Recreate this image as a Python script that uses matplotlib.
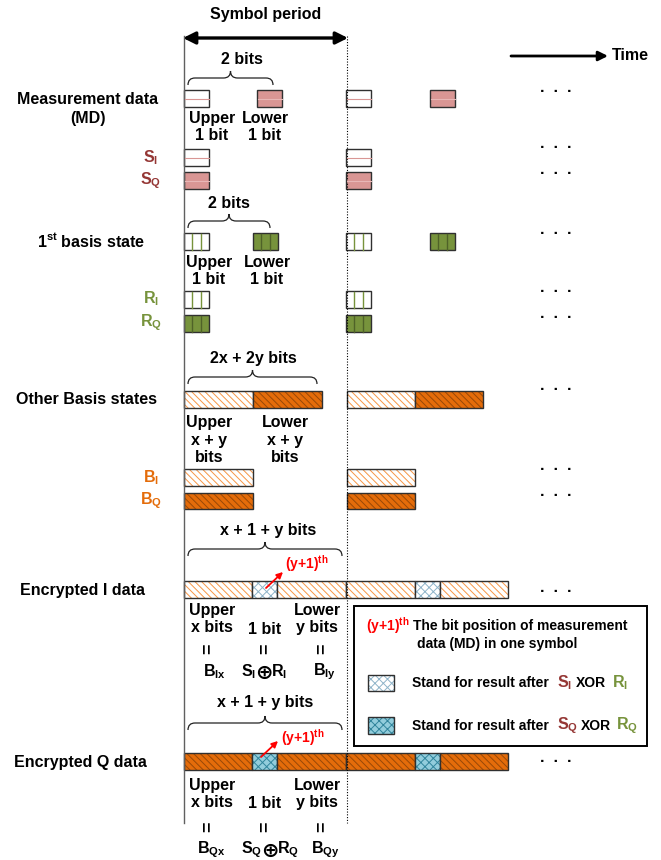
import matplotlib.pyplot as plt
from matplotlib.patches import Rectangle, PathPatch
from matplotlib.path import Path

# ---- text content of the diagram
row_titles = ['Measurement data\n(MD)', '1$^{st}$ basis state', 'Other Basis states',
              'Encrypted I data', 'Encrypted Q data']
brace_labels = ['2 bits', '2 bits', '2x + 2y bits', 'x + 1 + y bits', 'x + 1 + y bits']
one_bit_parts = ['Upper\n1 bit', 'Lower\n1 bit']
basis_parts = ['Upper\nx + y\nbits', 'Lower\nx + y\nbits']
enc_parts = ['Upper\nx bits', '1 bit', 'Lower\ny bits']
enc_I_terms = ['B$_{Ix}$', 'S$_I$', 'R$_I$', 'B$_{Iy}$']
enc_Q_terms = ['B$_{Qx}$', 'S$_Q$', 'R$_Q$', 'B$_{Qy}$']
s_labels = ['S$_I$', 'S$_Q$']
r_labels = ['R$_I$', 'R$_Q$']
b_labels = ['B$_I$', 'B$_Q$']
pos_label = '(y+1)$^{th}$'
legend_lines = ['The bit position of measurement', 'data (MD) in one symbol']
legend_xor = 'Stand for result after'

# ---- colours
RED_T = '#953735'
MD_FILL = '#d99694'
GREEN = '#77933c'
GREEN_D = '#4f6228'
ORANGE = '#e46c0a'
ORANGE_H = '#984807'
ORANGE_L = '#f79646'
BLUE = '#92cddc'
BLUE_H = '#31859c'
LIGHT_X = '#8fb4c9'
EDGE = '#303030'

HATCH = '\\\\\\\\\\'
XHATCH = 'xxxx'

plt.rcParams['font.family'] = ['Liberation Sans', 'DejaVu Sans']
plt.rcParams['font.weight'] = 'bold'
plt.rcParams['mathtext.default'] = 'regular'
plt.rcParams['hatch.linewidth'] = 0.7

fig = plt.figure(figsize=(6.61, 8.6), dpi=100)
ax = fig.add_axes([0, 0, 1, 1])
ax.set_xlim(0, 661)
ax.set_ylim(860, 0)
ax.axis('off')

FS = 11.5


def txt(x, y, s, size=FS, color='black', ha='center', va='center', **kw):
    ax.text(x, y, s, fontsize=size, color=color, ha=ha, va=va,
            fontweight='bold', linespacing=1.2, **kw)


def box(x, y, w, h, fill, hatch=None, hcolor=None):
    if hatch:
        ax.add_patch(Rectangle((x, y), w, h, facecolor=fill, edgecolor=hcolor,
                               hatch=hatch, lw=0))
        ax.add_patch(Rectangle((x, y), w, h, facecolor='none', edgecolor=EDGE, lw=1.0))
    else:
        ax.add_patch(Rectangle((x, y), w, h, facecolor=fill, edgecolor=EDGE, lw=1.0))


def md_box(x, y, filled):
    box(x, y, 25, 17, MD_FILL if filled else 'white')
    ax.plot([x + 0.5, x + 24.5], [y + 8.5, y + 8.5], color='#e8b7b6' if filled else MD_FILL, lw=0.8)


def green_box(x, y, filled):
    box(x, y, 25, 17, GREEN if filled else 'white')
    for k in (1, 2):
        ax.plot([x + 25 * k / 3] * 2, [y + 0.5, y + 16.5], color=GREEN_D if filled else GREEN, lw=1.0)


def brace(x0, x1, ybar, h=7):
    xm = (x0 + x1) / 2
    verts = [(x0, ybar + h), (x0, ybar), (x0 + h, ybar), (xm - h, ybar), (xm, ybar), (xm, ybar - h),
             (xm, ybar - h), (xm, ybar), (xm + h, ybar), (x1 - h, ybar), (x1, ybar), (x1, ybar + h)]
    codes = [Path.MOVETO, Path.CURVE3, Path.CURVE3, Path.LINETO, Path.CURVE3, Path.CURVE3,
             Path.MOVETO, Path.CURVE3, Path.CURVE3, Path.LINETO, Path.CURVE3, Path.CURVE3]
    ax.add_patch(PathPatch(Path(verts, codes), facecolor='none', edgecolor='#222222', lw=0.9))


def dots(y):
    txt(556, y - 3, '.  .  .', size=11.5)


# ---- header
txt(266, 15, 'Symbol period')
ax.annotate('', xy=(348, 38), xytext=(183, 38),
            arrowprops=dict(arrowstyle='<|-|>', lw=2.4, color='black', mutation_scale=18,
                            shrinkA=0, shrinkB=0))
ax.annotate('', xy=(608, 56), xytext=(511, 56),
            arrowprops=dict(arrowstyle='-|>', lw=2.0, color='black', mutation_scale=14,
                            shrinkA=0, shrinkB=0))
txt(612, 55, 'Time', ha='left')
ax.plot([184, 184], [36, 823], color='#606060', lw=1.0)
ax.plot([346.5, 346.5], [36, 823], color='black', lw=0.8, ls=(0, (1, 1.5)))

# ---- measurement data
txt(88, 100, row_titles[0].split('\n')[0])
txt(88, 119, row_titles[0].split('\n')[1])
brace(188, 273, 78)
txt(242, 60, brace_labels[0])
for x0, xl in zip([184, 346], [257, 430]):
    md_box(x0, 90, False)
    md_box(xl, 90, True)
    md_box(x0, 149, False)
    md_box(x0, 172, True)
txt(212, 127, one_bit_parts[0])
txt(265, 127, one_bit_parts[1])
txt(151, 158, s_labels[0], size=11.5, color=RED_T)
txt(151, 181, s_labels[1], size=11.5, color=RED_T)

# ---- 1st basis state
txt(91, 241, row_titles[1])
brace(188, 270, 221)
txt(229, 203, brace_labels[1])
for x0, xl in zip([184, 346], [253, 430]):
    green_box(x0, 233, False)
    green_box(xl, 233, True)
    green_box(x0, 291, False)
    green_box(x0, 315, True)
txt(209, 271, one_bit_parts[0])
txt(267, 271, one_bit_parts[1])
txt(151, 299, r_labels[0], size=11.5, color=GREEN)
txt(151, 323, r_labels[1], size=11.5, color=GREEN)

# ---- other basis states
txt(87, 400, row_titles[2])
brace(188, 317, 377)
txt(253, 358, brace_labels[2])
for x0, xm, x1 in [(184, 253, 322), (347, 415, 483)]:
    box(x0, 391, xm - x0, 17, 'white', HATCH, ORANGE_L)
    box(xm, 391, x1 - xm, 17, ORANGE, HATCH, ORANGE_H)
    box(x0, 469, xm - x0, 17, 'white', HATCH, ORANGE_L)
    box(x0, 493, xm - x0, 16, ORANGE, HATCH, ORANGE_H)
txt(209, 440, basis_parts[0])
txt(285, 440, basis_parts[1])
txt(151, 478, b_labels[0], size=11.5, color=ORANGE)
txt(151, 501, b_labels[1], size=11.5, color=ORANGE)


# ---- encrypted rows
def enc_row(ytop, title, title_x, terms, fill, hcol, xfill, xcol, ybr, arr, texty, eqy, termy, sx):
    txt(title_x, ytop + 9, title)
    brace(188, 342, ybr)
    for x0, xa, xb, x1 in [(184, 252, 277, 346), (346, 415, 440, 508)]:
        box(x0, ytop, xa - x0, 17, fill, HATCH, hcol)
        box(xa, ytop, xb - xa, 17, xfill, XHATCH, xcol)
        box(xb, ytop, x1 - xb, 17, fill, HATCH, hcol)
    ax.annotate('', xy=(arr[2], arr[3]), xytext=(arr[0], arr[1]),
                arrowprops=dict(arrowstyle='-|>', lw=1.3, color='red', mutation_scale=9,
                                shrinkA=0, shrinkB=0))
    txt(212, texty, enc_parts[0])
    txt(265, texty + 10, enc_parts[1])
    txt(317, texty, enc_parts[2])
    for xe in (208, 265, 322):
        txt(xe, eqy, '=', size=13, rotation=90)
    txt(sx[0], termy, terms[0])
    txt(sx[1], termy, terms[1], ha='right')
    ax.text(sx[2], termy + 1, '\u2295', fontsize=15, ha='center', va='center',
            family='DejaVu Sans', fontweight='bold')
    txt(sx[3], termy, terms[2], ha='left')
    txt(sx[4], termy, terms[3])


enc_row(581, row_titles[3], 83, enc_I_terms, 'white', ORANGE_L, 'white', LIGHT_X,
        549, (266, 588, 283, 572), 619, 649, 672, (214, 256, 263.5, 271, 324))
txt(307, 564, pos_label, size=10, color='red')
txt(268, 531, brace_labels[3])
txt(265, 702, brace_labels[4])
enc_row(753, row_titles[4], 80, enc_Q_terms, ORANGE, ORANGE_H, BLUE, BLUE_H,
        723, (261, 757, 278, 741), 794, 827, 850, (211, 262, 270, 277, 325))
txt(303, 738, pos_label, size=10, color='red')

for yd in (91, 146, 172, 233, 290, 316, 388, 468, 495, 590, 760):
    dots(yd)

# ---- legend box
ax.add_patch(Rectangle((354, 606), 293, 140, facecolor='white', edgecolor='black', lw=1.4))
txt(366, 626, pos_label, size=10, color='red', ha='left')
txt(413, 626, legend_lines[0], size=10, ha='left')
txt(417, 644, legend_lines[1], size=10, ha='left')
box(368, 675, 26, 16, 'white', XHATCH, LIGHT_X)
box(368, 717, 26, 17, BLUE, XHATCH, BLUE_H)
for yy, sl, rl, sx, xx, rx in [(683, s_labels[0], r_labels[0], 557, 576, 612),
                               (726, s_labels[1], r_labels[1], 557, 581, 616)]:
    txt(412, yy, legend_xor, size=10, ha='left')
    txt(sx, yy, sl, size=11.5, color=RED_T, ha='left')
    txt(xx, yy, 'XOR', size=10, ha='left')
    txt(rx, yy, rl, size=11.5, color=GREEN, ha='left')

fig.savefig('out.png', dpi=100)
